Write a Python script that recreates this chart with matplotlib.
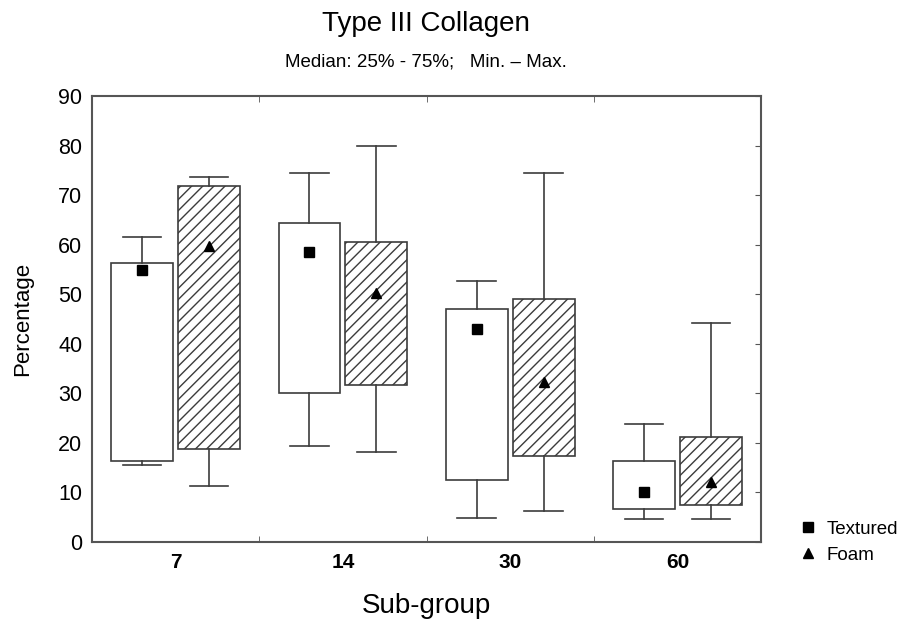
import matplotlib
matplotlib.use("Agg")
import matplotlib.pyplot as plt
from matplotlib.lines import Line2D

plt.rcParams['font.family'] = ['Liberation Sans', 'DejaVu Sans']
plt.rcParams['hatch.linewidth'] = 1.0

# data
groups = ['7', '14', '30', '60']
textured_med = [54.8, 58.5, 43.0, 10.0]
textured_q1 = [16.3, 30.1, 12.5, 6.6]
textured_q3 = [56.4, 64.4, 47.0, 16.3]
textured_min = [15.5, 19.3, 4.9, 4.6]
textured_max = [61.5, 74.5, 52.6, 23.8]

foam_med = [59.7, 50.3, 32.3, 12.1]
foam_q1 = [18.8, 31.6, 17.3, 7.5]
foam_q3 = [71.8, 60.6, 49.0, 21.1]
foam_min = [11.4, 18.1, 6.2, 4.6]
foam_max = [73.6, 79.9, 74.5, 44.2]

line_col = '#3c3c3c'

fig = plt.figure(figsize=(9.05, 6.21), dpi=100)
ax = fig.add_axes([0.1017, 0.1272, 0.7392, 0.7182])

def make_stats(med, q1, q3, lo, hi):
    return [dict(med=m, q1=a, q3=b, whislo=l, whishi=h, fliers=[])
            for m, a, b, l, h in zip(med, q1, q3, lo, hi)]

pos = list(range(len(groups)))
common = dict(widths=0.37, patch_artist=True, showfliers=False,
              whiskerprops=dict(color=line_col, lw=1.2),
              capprops=dict(color=line_col, lw=1.2),
              medianprops=dict(visible=False), manage_ticks=False)

ax.bxp(make_stats(textured_med, textured_q1, textured_q3, textured_min, textured_max),
       positions=[p - 0.2 for p in pos], capwidths=0.23,
       boxprops=dict(facecolor='white', edgecolor=line_col, lw=1.2), **common)
ax.bxp(make_stats(foam_med, foam_q1, foam_q3, foam_min, foam_max),
       positions=[p + 0.2 for p in pos], capwidths=0.23,
       boxprops=dict(facecolor='white', edgecolor=line_col, lw=1.2, hatch='///'), **common)

ax.plot([p - 0.2 for p in pos], textured_med, 's', color='black', ms=7, ls='none', zorder=5)
ax.plot([p + 0.2 for p in pos], foam_med, '^', color='black', ms=7, ls='none', zorder=5)

ax.set_xlim(-0.5, 3.5)
ax.set_ylim(0, 90)
ax.set_yticks(range(0, 91, 10))
ax.set_xticks(pos)
ax.set_xticklabels(groups, fontweight='bold', fontsize=15)
ax.set_xticks([0.5, 1.5, 2.5], minor=True)
ax.tick_params(axis='x', which='major', length=0, pad=8)
ax.tick_params(axis='x', which='minor', direction='in', length=4, top=True, color='#555555')
ax.tick_params(axis='y', direction='in', left=False, right=True, length=4,
               labelsize=15.5, pad=7, color='#555555')
for s in ax.spines.values():
    s.set_color('#555555')
    s.set_linewidth(1.5)

ax.set_xlabel('Sub-group', fontsize=20, labelpad=15)
ax.set_ylabel('Percentage', fontsize=16, labelpad=18)

fig.text(0.471, 0.962, 'Type III Collagen', ha='center', va='center', fontsize=20)
fig.text(0.471, 0.9, 'Median: 25% - 75%;   Min. \u2013 Max.', ha='center', va='center', fontsize=13.5)

handles = [Line2D([], [], marker='s', color='black', ls='none', ms=7),
           Line2D([], [], marker='^', color='black', ls='none', ms=7)]
fig.legend(handles, ['Textured', 'Foam'], loc='upper left', bbox_to_anchor=(0.884, 0.162),
           frameon=False, fontsize=13.5, handlelength=0.8, handletextpad=0.6, labelspacing=0.5,
           borderaxespad=0, borderpad=0)

fig.savefig('out.png', dpi=100)
